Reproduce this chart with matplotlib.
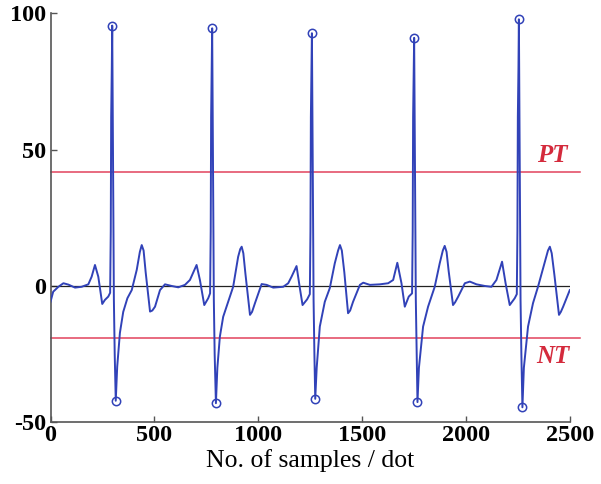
import matplotlib
matplotlib.use("Agg")
import matplotlib.pyplot as plt

# ECG-like signal (sample index, amplitude)
samples = [0, 13, 38, 62, 86, 118, 150, 182, 198, 214, 230, 249, 262, 278,
           287, 290, 292, 295, 297, 302, 305, 309, 314, 321, 334, 350, 370, 391,
           415, 430, 439, 448, 458, 479, 490, 503, 527, 551, 583, 615, 647, 671, 703, 719, 740,
           759, 768, 771, 773, 776, 778, 783, 786, 790, 796, 803, 815, 831, 855,
           879, 903, 913, 920, 928, 938, 960, 970, 984, 1016, 1040, 1072, 1120, 1144, 1160, 1184,
           1200, 1213, 1235, 1248, 1251, 1253, 1256, 1258, 1263, 1266, 1270, 1274,
           1281, 1296, 1320, 1344, 1368, 1384, 1393, 1402, 1414, 1432, 1442, 1456, 1489, 1505, 1537,
           1585, 1625, 1649, 1669, 1689, 1705, 1724, 1740, 1743, 1745, 1748, 1750,
           1755, 1758, 1762, 1766, 1773, 1793, 1817, 1849, 1873, 1888, 1897, 1906, 1916, 1937,
           1947, 1962, 1994, 2018, 2050, 2090, 2122, 2146, 2173, 2190, 2210, 2234, 2244,
           2247, 2249, 2252, 2254, 2259, 2262, 2266, 2271, 2278, 2298, 2322, 2346,
           2379, 2394, 2403, 2412, 2425, 2447, 2456, 2467, 2499]
amplitude = [-5.8, -2.1, -0.3, 1.0, 0.5, -0.6, -0.3, 0.6, 3.4, 7.7, 3.4, -6.6, -5.1, -3.9,
             -2.5, 20, 62, 80, 95.5, 30, -5, -25, -42.1, -29.6, -17.2, -9.5, -4.5, -1.5,
             5.9, 12.5, 15.0, 13.0, 5.0, -9.4, -9.0, -7.6, -1.5, 0.6, 0.0, -0.5, 0.4, 2.2, 7.7, 2.2, -7.0,
             -4.5, -2.7, 20, 62, 80, 94.5, 30, -5, -25, -43.0, -30, -18.6, -11.3, -5.8,
             -0.3, 10.7, 13.5, 14.4, 12.0, 4.5, -10.6, -9.5, -6.3, 0.7, 0.4, -0.6, -0.3, 1.0, 3.4, 7.3,
             -0.8, -7.0, -4.9, -3.0, 20, 62, 80, 92.7, 30, -5, -25, -41.4,
             -30, -14.9, -5.8, -0.8, 8.3, 13.0, 15.0, 13.0, 5.0, -10.0, -9.0, -5.8, 0.4, 1.2, 0.4,
             0.6, 1.0, 2.2, 8.5, 1.0, -7.6, -3.9, -2.7, 20, 62, 80, 91.0,
             30, -5, -25, -42.6, -30, -14.9, -7.6, -0.3, 8.3, 13.0, 14.7, 12.5, 5.5, -7.0,
             -6.0, -3.9, 1.0, 1.6, 0.6, 0.0, -0.3, 2.2, 8.9, 1.0, -7.0, -4.5, -3.0,
             20, 62, 80, 97.8, 30, -5, -25, -44.5, -30, -14.9, -6.3, -0.3,
             8.9, 13.0, 14.4, 12.0, 4.0, -10.6, -9.5, -7.6, -1.5]

peak_x = [297, 778, 1258, 1750, 2254]
peak_y = [95.5, 94.5, 92.7, 91.0, 97.8]
trough_x = [314, 796, 1274, 1766, 2271]
trough_y = [-42.1, -43.0, -41.4, -42.6, -44.5]

pt_level = 41.9
nt_level = -19.2
threshold_labels = ["PT", "NT"]

x_ticks = [0, 500, 1000, 1500, 2000, 2500]
y_ticks = [-50, 0, 50, 100]
x_label = "No. of samples / dot"

blue = "#3142b8"
red = "#e2435c"

fig = plt.figure(figsize=(6.01, 4.84), dpi=100)
ax = fig.add_axes([50.5 / 601, (484 - 422.3) / 484, (570 - 50.5) / 601, (422.3 - 13.3) / 484])

ax.plot([0, samples[-1]], [0, 0], color="#222222", lw=0.9, zorder=2)
ax.plot([0, 2550], [pt_level, pt_level], color=red, lw=1.1, clip_on=False, zorder=2)
ax.plot([0, 2550], [nt_level, nt_level], color=red, lw=1.1, clip_on=False, zorder=2)
ax.plot(samples, amplitude, color=blue, lw=1.4, zorder=3)
ax.plot(peak_x, peak_y, "o", ms=6, mfc="none", mec=blue, mew=1.1, zorder=4, clip_on=False)
ax.plot(trough_x, trough_y, "o", ms=6, mfc="none", mec=blue, mew=1.1, zorder=4, clip_on=False)

lab_font = dict(family=["Liberation Serif", "DejaVu Serif"], weight="bold",
                style="italic", size=18, color="#d42a3c")
ax.text(2417, 48, threshold_labels[0], ha="center", va="center", **lab_font)
ax.text(2417, -25.7, threshold_labels[1], ha="center", va="center", **lab_font)

ax.set_xlim(0, 2500)
ax.set_ylim(-50, 100)
ax.set_xticks(x_ticks)
ax.set_yticks(y_ticks)
tick_font = dict(family=["Liberation Serif", "DejaVu Serif"], weight="bold", size=17.5)
ax.set_xticklabels([str(t) for t in x_ticks], **tick_font)
ax.set_yticklabels([str(t) for t in y_ticks], **tick_font)
ax.tick_params(direction="in", length=4, width=1, color="#555555", pad=2)
ax.tick_params(axis="y", pad=3)
for s in ["top", "right"]:
    ax.spines[s].set_visible(False)
for s in ["left", "bottom"]:
    ax.spines[s].set_color("#555555")
    ax.spines[s].set_linewidth(1.2)
ax.set_xlabel(x_label, family=["Liberation Serif", "DejaVu Serif"], size=18.5, labelpad=2)

fig.savefig("out.png", dpi=100)
